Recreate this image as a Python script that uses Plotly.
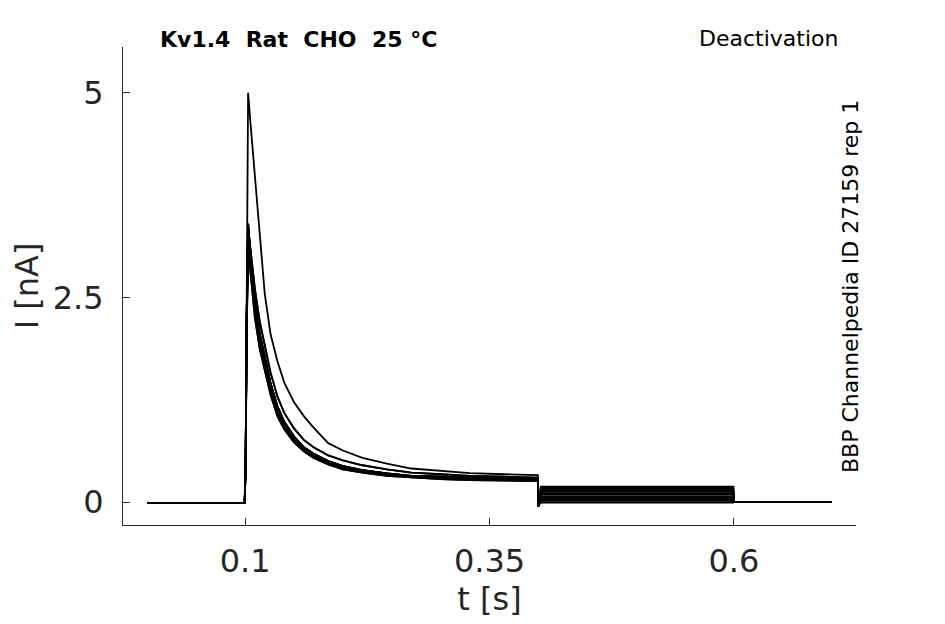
import plotly.graph_objects as go

# sweep time points (s) for the activation part, 0 -> 0.4 s
t_act = [0.0, 0.0995, 0.1005, 0.1015, 0.103, 0.106, 0.110, 0.115, 0.120, 0.126,
         0.133, 0.140, 0.150, 0.160, 0.170, 0.185, 0.200, 0.220, 0.245, 0.270,
         0.300, 0.330, 0.365, 0.3995]

# current (nA) during activation, per sweep shape
act_big = [-0.01, -0.01, 0.5, 3.0, 5.0, 4.55, 3.95, 3.2, 2.55, 2.05,
           1.72, 1.46, 1.22, 1.05, 0.91, 0.72, 0.63, 0.54, 0.47, 0.41,
           0.38, 0.355, 0.34, 0.33]
act_upper = [-0.01, -0.01, 0.5, 2.3, 3.35, 3.0, 2.6, 2.2, 1.92, 1.58,
             1.29, 1.09, 0.90, 0.76, 0.67, 0.57, 0.51, 0.45, 0.40, 0.36,
             0.34, 0.32, 0.31, 0.30]
act_mid = [-0.01, -0.01, 0.5, 2.2, 3.4, 2.95, 2.47, 2.05, 1.78, 1.45,
           1.17, 0.98, 0.80, 0.67, 0.59, 0.50, 0.44, 0.39, 0.35, 0.32,
           0.31, 0.30, 0.29, 0.28]
act_lower = [-0.01, -0.01, 0.5, 2.1, 3.2, 2.8, 2.35, 1.95, 1.68, 1.37,
             1.10, 0.93, 0.76, 0.64, 0.56, 0.48, 0.42, 0.37, 0.33, 0.31,
             0.29, 0.28, 0.27, 0.265]
act_low2 = [-0.01, -0.01, 0.4, 2.0, 3.1, 2.7, 2.25, 1.87, 1.60, 1.31,
            1.05, 0.89, 0.73, 0.62, 0.54, 0.46, 0.40, 0.36, 0.32, 0.30,
            0.28, 0.27, 0.26, 0.255]

# deactivation step 0.4 -> 0.6 s, then back to holding until 0.7 s
t_tail = [0.4, 0.4025, 0.5995, 0.6, 0.7]
tail_dip = -0.05
tail_levels = [0.19, 0.175, 0.16, 0.14, 0.125, 0.105, 0.09, 0.07, 0.05, 0.035,
               0.015, -0.005]
sweep_shapes = ["big", "upper", "mid", "lower", "mid", "low2", "upper", "mid",
                "lower", "mid", "low2", "lower"]

shapes = {"big": act_big, "upper": act_upper, "mid": act_mid,
          "lower": act_lower, "low2": act_low2}

fig = go.Figure()
for shape, level in zip(sweep_shapes, tail_levels):
    y = shapes[shape] + [tail_dip, level, level, 0.0, 0.0]
    fig.add_trace(go.Scatter(x=t_act + t_tail, y=y, mode="lines",
                             line=dict(color="black", width=1.8),
                             showlegend=False, hoverinfo="skip"))

axis_font = dict(family="DejaVu Sans", size=32, color="#262626")

# page body has an 8px margin, so the plot box is pulled back by 8px
fig.update_layout(
    width=945, height=624,
    margin=dict(l=115, r=97, t=39, b=107),
    paper_bgcolor="white", plot_bgcolor="white",
    font=dict(family="DejaVu Sans", color="#262626"),
    xaxis=dict(range=[-0.025, 0.725], tickvals=[0.1, 0.35, 0.6],
               ticktext=["0.1", "0.35", "0.6"], ticks="inside", ticklen=7,
               tickcolor="#262626", showline=True, linecolor="#262626",
               linewidth=1, showgrid=False, zeroline=False,
               tickfont=axis_font, ticklabelstandoff=8,
               title=dict(text="t [s]", font=axis_font, standoff=2)),
    yaxis=dict(range=[-0.28, 5.56], tickvals=[0, 2.5, 5],
               ticktext=["0", "2.5", "5"], ticks="inside", ticklen=7,
               tickcolor="#262626", showline=True, linecolor="#262626",
               linewidth=1, showgrid=False, zeroline=False,
               tickfont=axis_font, ticklabelstandoff=12,
               title=dict(text="I [nA]", font=axis_font, standoff=6)),
)

fig.add_annotation(text="<b>Kv1.4  Rat  CHO  25 °C</b>", xref="paper", yref="paper",
                   x=(158 - 123) / 733, y=1 + (47 - 40) / 478, xanchor="left",
                   yanchor="middle", showarrow=False,
                   font=dict(family="DejaVu Sans", size=22, color="black"))
fig.add_annotation(text="Deactivation", xref="paper", yref="paper",
                   x=(840 - 123) / 733, y=1 + (47 - 39) / 478, xanchor="right",
                   yanchor="middle", showarrow=False,
                   font=dict(family="DejaVu Sans", size=22, color="black"))
fig.add_annotation(text="BBP Channelpedia ID 27159 rep 1", xref="paper", yref="paper",
                   x=(850 - 123) / 733, y=(525 - 287) / 478, xanchor="center",
                   yanchor="middle", textangle=-90, showarrow=False,
                   font=dict(family="DejaVu Sans", size=22, color="black"))

fig.write_html("out.html")
